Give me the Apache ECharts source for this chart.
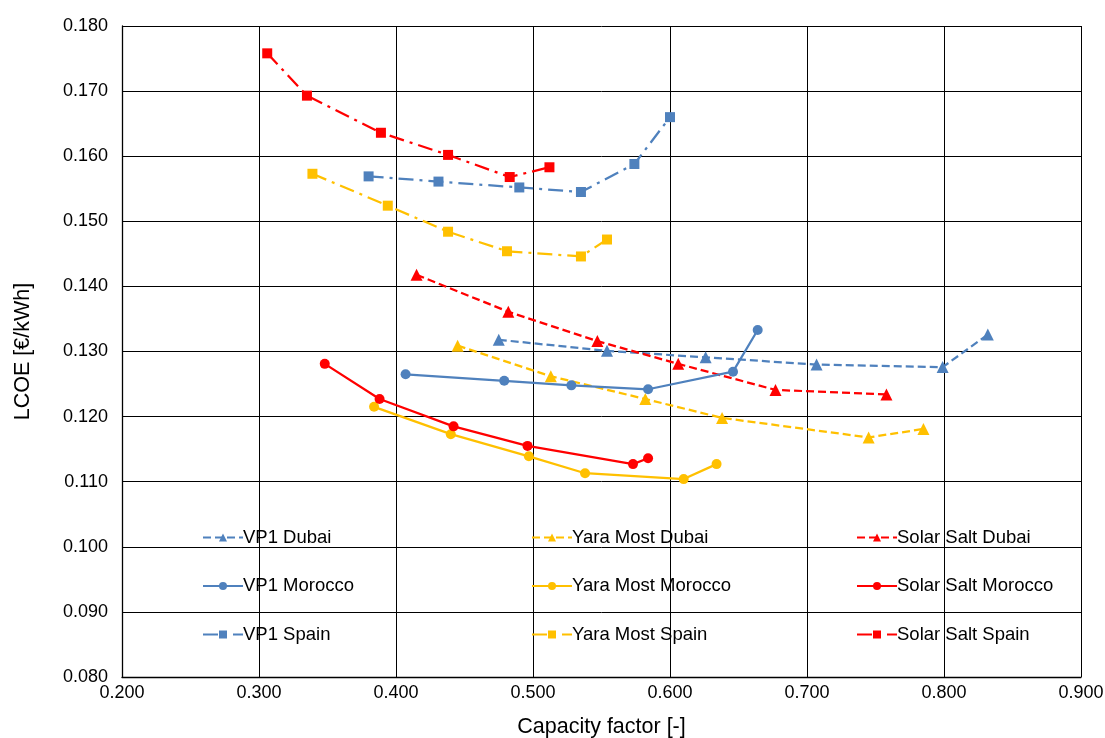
<!DOCTYPE html>
<html>
<head>
<meta charset="utf-8">
<script src="https://cdn.jsdelivr.net/npm/echarts@6/dist/echarts.min.js"></script>
<style>html,body{margin:0;padding:0;background:#fff}#c{width:1105px;height:738px}</style>
</head>
<body>
<div id="c"></div>
<script>
// Capacity factor (x) and LCOE (y) per series
var vp1DubaiX = [0.475, 0.554, 0.626, 0.707, 0.799, 0.832];
var vp1DubaiY = [0.1318, 0.1301, 0.1291, 0.1280, 0.1276, 0.1326];
var yaraDubaiX = [0.445, 0.513, 0.582, 0.638, 0.745, 0.785];
var yaraDubaiY = [0.1309, 0.1262, 0.1227, 0.1198, 0.1168, 0.1181];
var saltDubaiX = [0.415, 0.482, 0.547, 0.606, 0.677, 0.758];
var saltDubaiY = [0.1418, 0.1361, 0.1316, 0.1281, 0.1241, 0.1234];

var vp1MoroccoX = [0.407, 0.479, 0.528, 0.584, 0.646, 0.664];
var vp1MoroccoY = [0.1265, 0.1255, 0.1248, 0.1242, 0.1269, 0.1333];
var yaraMoroccoX = [0.384, 0.440, 0.497, 0.538, 0.610, 0.634];
var yaraMoroccoY = [0.1215, 0.1173, 0.1139, 0.1113, 0.1104, 0.1127];
var saltMoroccoX = [0.348, 0.388, 0.442, 0.496, 0.573, 0.584];
var saltMoroccoY = [0.1281, 0.1227, 0.1185, 0.1155, 0.1127, 0.1136];

var vp1SpainX = [0.380, 0.431, 0.490, 0.535, 0.574, 0.600];
var vp1SpainY = [0.1569, 0.1561, 0.1552, 0.1545, 0.1588, 0.1660];
var yaraSpainX = [0.339, 0.394, 0.438, 0.481, 0.535, 0.554];
var yaraSpainY = [0.1573, 0.1524, 0.1484, 0.1454, 0.1446, 0.1472];
var saltSpainX = [0.306, 0.335, 0.389, 0.438, 0.483, 0.512];
var saltSpainY = [0.1758, 0.1693, 0.1636, 0.1602, 0.1568, 0.1583];

var seriesNames = ['VP1 Dubai','Yara Most Dubai','Solar Salt Dubai',
                   'VP1 Morocco','Yara Most Morocco','Solar Salt Morocco',
                   'VP1 Spain','Yara Most Spain','Solar Salt Spain'];

function pairs(xs, ys){ return xs.map(function(x,i){ return [x, ys[i]]; }); }

var BLUE = '#4F81BD', YELLOW = '#FFC000', RED = '#FF0000';
var DASH = [8, 4];
var DASHDOT = [15, 6, 3, 6];

function mk(name, xs, ys, color, dash, symbol, size){
  return {
    name: name, type: 'line', data: pairs(xs, ys),
    symbol: symbol, symbolSize: size, showSymbol: true,
    lineStyle: {color: color, width: 2.25, type: dash},
    itemStyle: {color: color},
    emphasis: {disabled: true},
    animation: false
  };
}

var series = [
  mk(seriesNames[0], vp1DubaiX, vp1DubaiY, BLUE, DASH, 'triangle', 12),
  mk(seriesNames[1], yaraDubaiX, yaraDubaiY, YELLOW, DASH, 'triangle', 12),
  mk(seriesNames[2], saltDubaiX, saltDubaiY, RED, DASH, 'triangle', 12),
  mk(seriesNames[3], vp1MoroccoX, vp1MoroccoY, BLUE, 'solid', 'circle', 10),
  mk(seriesNames[4], yaraMoroccoX, yaraMoroccoY, YELLOW, 'solid', 'circle', 10),
  mk(seriesNames[5], saltMoroccoX, saltMoroccoY, RED, 'solid', 'circle', 10),
  mk(seriesNames[6], vp1SpainX, vp1SpainY, BLUE, DASHDOT, 'rect', 10),
  mk(seriesNames[7], yaraSpainX, yaraSpainY, YELLOW, DASHDOT, 'rect', 10),
  mk(seriesNames[8], saltSpainX, saltSpainY, RED, DASHDOT, 'rect', 10)
];

var FONT = 'Liberation Sans, Arial, sans-serif';
function legendCol(left, names){
  return {
    orient: 'vertical', left: left, top: 523, itemGap: 29.5,
    itemWidth: 40, itemHeight: 10,
    textStyle: {fontFamily: FONT, fontSize: 18.5, color: '#000', padding: [0,0,0,-5]},
    data: names, selectedMode: false
  };
}

var chart = echarts.init(document.getElementById('c'), null, {renderer: 'canvas'});
chart.setOption({
  backgroundColor: '#fff',
  animation: false,
  grid: {left: 122, right: 24, top: 26, bottom: 61, containLabel: false, outerBoundsMode: 'none'},
  legend: [
    legendCol(197, [seriesNames[0], seriesNames[3], seriesNames[6]]),
    legendCol(526, [seriesNames[1], seriesNames[4], seriesNames[7]]),
    legendCol(851, [seriesNames[2], seriesNames[5], seriesNames[8]])
  ],
  xAxis: {
    type: 'value', min: 0.2, max: 0.9, interval: 0.1,
    name: 'Capacity factor [-]', nameLocation: 'middle', nameGap: 39,
    nameTextStyle: {fontFamily: FONT, fontSize: 21.5, color: '#000'},
    axisLine: {show: true, onZero: false, lineStyle: {color: '#000', width: 1.3}},
    axisTick: {show: false},
    axisLabel: {fontFamily: FONT, fontSize: 18, color: '#000', margin: 7,
      formatter: function(v){ return v.toFixed(3); }},
    splitLine: {show: true, lineStyle: {color: '#000', width: 1}}
  },
  yAxis: {
    type: 'value', min: 0.08, max: 0.18, interval: 0.01,
    name: 'LCOE [€/kWh]', nameLocation: 'middle', nameGap: 88, nameRotate: 90,
    nameTextStyle: {fontFamily: FONT, fontSize: 21.5, color: '#000'},
    axisLine: {show: true, onZero: false, lineStyle: {color: '#000', width: 1.3}},
    axisTick: {show: false},
    axisLabel: {fontFamily: FONT, fontSize: 18, color: '#000', margin: 14,
      formatter: function(v){ return v.toFixed(3); }},
    splitLine: {show: true, lineStyle: {color: '#000', width: 1}}
  },
  series: series
});
</script>
</body>
</html>
